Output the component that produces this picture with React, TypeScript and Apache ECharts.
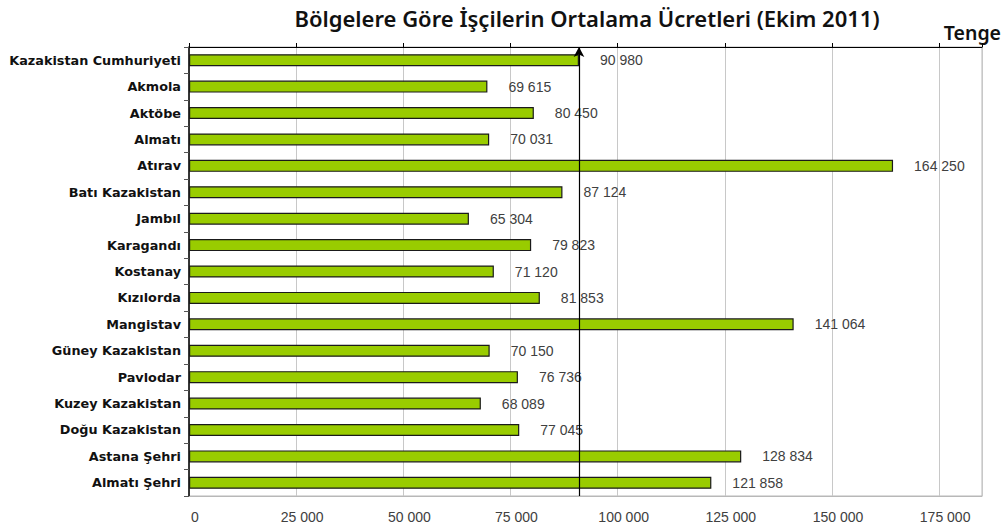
import React, { useEffect, useRef } from "react";
import * as echarts from "echarts";

const categories = [
  "Kazakistan Cumhuriyeti",
  "Akmola",
  "Aktöbe",
  "Almatı",
  "Atırav",
  "Batı Kazakistan",
  "Jambıl",
  "Karagandı",
  "Kostanay",
  "Kızılorda",
  "Mangistav",
  "Güney Kazakistan",
  "Pavlodar",
  "Kuzey Kazakistan",
  "Doğu Kazakistan",
  "Astana Şehri",
  "Almatı Şehri",
];

const wages = [
  90980, 69615, 80450, 70031, 164250, 87124, 65304, 79823, 71120, 81853,
  141064, 70150, 76736, 68089, 77045, 128834, 121858,
];

const averageLine = 90980;
const tickValues = [0, 25000, 50000, 75000, 100000, 125000, 150000, 175000];

const fmt = (v: number) =>
  String(Math.round(v)).replace(/\B(?=(\d{3})+(?!\d))/g, " ");

export default function App() {
  const ref = useRef<HTMLDivElement>(null);
  useEffect(() => {
    if (!ref.current) return;
    const chart = echarts.init(ref.current, undefined, { renderer: "svg" });
    chart.setOption({
      animation: false,
      backgroundColor: "#ffffff",
      title: {
        text: "Bölgelere Göre İşçilerin Ortalama Ücretleri (Ekim 2011)",
        left: 582,
        textAlign: "center",
        top: 2,
        textStyle: {
          fontFamily: "Noto Sans",
          fontWeight: 600,
          fontSize: 22,
          color: "#111",
        },
      },
      graphic: [
        {
          type: "text",
          right: 6,
          top: 22,
          style: {
            text: "Tenge",
            fontFamily: "Noto Sans",
            fontWeight: 600,
            fontSize: 19.5,
            fill: "#111",
          },
        },
      ],
      grid: {
        left: 189,
        right: 25,
        top: 47,
        bottom: 32,
        show: true,
        borderColor: "#b8b8b8",
        borderWidth: 1,
      },
      xAxis: [
        {
          type: "value",
          position: "bottom",
          min: 0,
          max: 185000,
          interval: 25000,
          axisLine: { show: true, lineStyle: { color: "#b8b8b8" } },
          axisTick: { show: false },
          splitLine: { show: true, lineStyle: { color: "#c8c8c8" } },
          axisLabel: {
            margin: 14,
            padding: [0, 0, 0, 12],
            fontFamily: "Liberation Sans",
            fontSize: 14,
            color: "#404040",
            showMaxLabel: false,
            formatter: (v: number) => (tickValues.includes(v) ? fmt(v) : ""),
          },
        },
        {
          type: "value",
          position: "top",
          min: 0,
          max: 185000,
          interval: 25000,
          axisLine: { show: true, lineStyle: { color: "#000", width: 1 } },
          axisTick: { show: true, inside: false, length: 4, lineStyle: { color: "#000" } },
          splitLine: { show: false },
          axisLabel: { show: false },
        },
      ],
      yAxis: {
        type: "category",
        data: categories,
        inverse: true,
        axisLine: { show: true, lineStyle: { color: "#000", width: 1.5 } },
        axisTick: { show: true, length: 5, lineStyle: { color: "#555" } },
        axisLabel: {
          margin: 8,
          fontFamily: "DejaVu Sans",
          fontWeight: "bold",
          fontSize: 12.8,
          color: "#111",
        },
      },
      series: [
        {
          type: "bar",
          data: wages,
          xAxisIndex: 0,
          barWidth: 12,
          itemStyle: {
            color: "#99cc00",
            borderColor: "#1a1a1a",
            borderWidth: 1.2,
          },
          label: {
            show: true,
            position: "right",
            distance: 21,
            fontFamily: "Liberation Sans",
            fontSize: 14,
            color: "#404040",
            formatter: (p: any) => fmt(p.value),
          },
          markLine: {
            silent: true,
            symbol: ["arrow", "none"],
            symbolSize: [8, 10],
            label: { show: false },
            lineStyle: { color: "#000", width: 1.2, type: "solid" },
            data: [{ xAxis: averageLine }],
          },
        },
      ],
    });
    return () => chart.dispose();
  }, []);
  return (
    <div
      ref={ref}
      style={{ position: "fixed", left: 0, top: 0, width: 1007, height: 528 }}
    />
  );
}
